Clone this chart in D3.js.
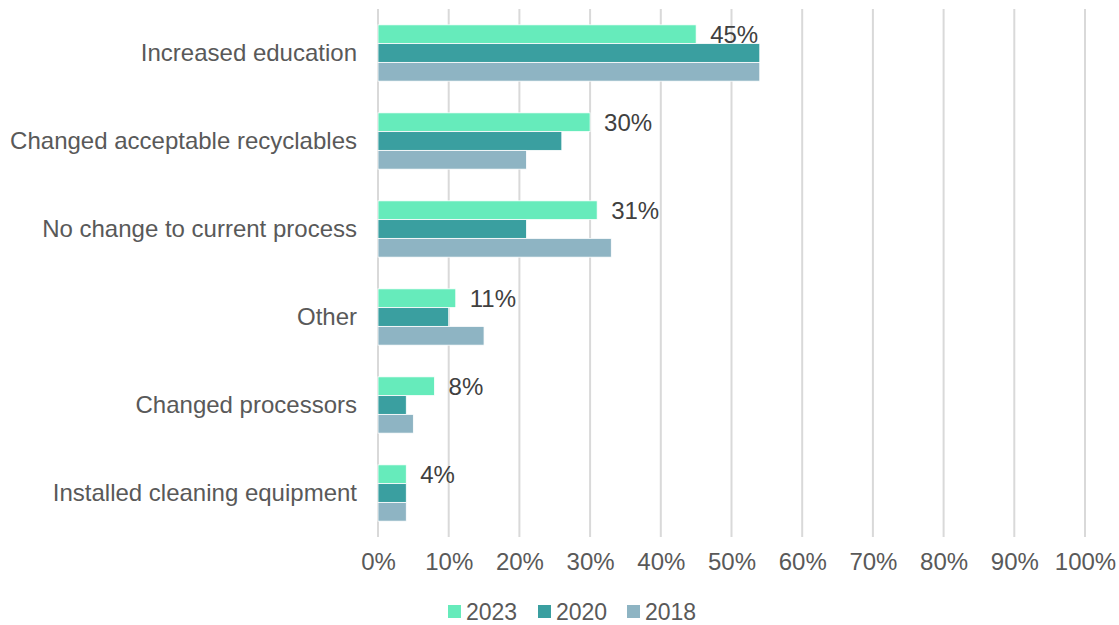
<!DOCTYPE html>
<html>
<head>
<meta charset="utf-8">
<script src="https://cdn.jsdelivr.net/npm/d3@7"></script>
<style>
  html, body { margin: 0; padding: 0; background: #fff; }
  svg { display: block; font-family: "Liberation Sans", Arial, sans-serif; }
</style>
</head>
<body>
<svg id="chart" width="1119" height="625"></svg>
<script>
// Survey responses: changes made to recycling programs, by year
const categories = [
  "Increased education",
  "Changed acceptable recyclables",
  "No change to current process",
  "Other",
  "Changed processors",
  "Installed cleaning equipment"
];
const seriesNames = ["2023", "2020", "2018"];
const values2023 = [45, 30, 31, 11, 8, 4];
const values2020 = [54, 26, 21, 10, 4, 4];
const values2018 = [54, 21, 33, 15, 5, 4];
const xTicks = [0, 10, 20, 30, 40, 50, 60, 70, 80, 90, 100];

const seriesValues = [values2023, values2020, values2018];
const colors = ["#66EBBB", "#3A9FA0", "#8EB4C3"];

const svg = d3.select("#chart");
const margin = { top: 9, right: 34, bottom: 88, left: 378 };
const width = 1119 - margin.left - margin.right;
const height = 625 - margin.top - margin.bottom;

const g = svg.append("g").attr("transform", `translate(${margin.left},${margin.top})`);

const x = d3.scaleLinear().domain([0, 100]).range([0, width]);
const y0 = d3.scaleBand().domain(categories).range([0, height]).paddingInner(0.36).paddingOuter(0.18);
const y1 = d3.scaleBand().domain(seriesNames).range([0, y0.bandwidth()]);

// Vertical gridlines
g.append("g")
  .selectAll("line")
  .data(xTicks)
  .join("line")
  .attr("x1", d => x(d)).attr("x2", d => x(d))
  .attr("y1", 0).attr("y2", height)
  .attr("stroke", "#d9d9d9")
  .attr("stroke-width", 2);

// X axis labels
const xAxis = d3.axisBottom(x).tickValues(xTicks).tickFormat(d => d + "%").tickSize(0).tickPadding(16);
const xa = g.append("g").attr("transform", `translate(0,${height})`).call(xAxis);
xa.select(".domain").remove();
xa.selectAll("text").attr("font-size", 24).attr("fill", "#595959").attr("font-family", "Liberation Sans, Arial, sans-serif");

// Category labels
const yAxis = d3.axisLeft(y0).tickSize(0).tickPadding(21);
const ya = g.append("g").call(yAxis);
ya.select(".domain").remove();
ya.selectAll("text").attr("font-size", 24).attr("fill", "#595959").attr("font-family", "Liberation Sans, Arial, sans-serif");

// Bars
const rows = categories.map((c, i) => ({
  category: c,
  items: seriesNames.map((s, j) => ({ series: s, value: seriesValues[j][i], color: colors[j] }))
}));

const groups = g.append("g")
  .selectAll("g")
  .data(rows)
  .join("g")
  .attr("transform", d => `translate(0,${y0(d.category)})`);

groups.selectAll("rect")
  .data(d => d.items)
  .join("rect")
  .attr("x", 0)
  .attr("y", d => y1(d.series))
  .attr("width", d => x(d.value))
  .attr("height", y1.bandwidth())
  .attr("fill", d => d.color)
  .attr("stroke", "#ffffff")
  .attr("stroke-width", 0.8);

// Value labels for the latest year
groups.append("text")
  .attr("x", d => x(d.items[0].value) + 14)
  .attr("y", y1("2023") + y1.bandwidth() / 2)
  .attr("dy", "0.35em")
  .attr("font-size", 24)
  .attr("fill", "#404040")
  .text(d => d.items[0].value + "%");

// Legend
const legend = svg.append("g").attr("transform", "translate(448,605)");
const legendOffsets = [0, 90, 179];
seriesNames.forEach((s, i) => {
  const lg = legend.append("g").attr("transform", `translate(${legendOffsets[i]},0)`);
  lg.append("rect").attr("width", 13).attr("height", 13).attr("fill", colors[i]);
  lg.append("text")
    .attr("x", 18).attr("y", 6.5).attr("dy", "0.35em")
    .attr("font-size", 23).attr("fill", "#595959")
    .text(s);
});
</script>
</body>
</html>
